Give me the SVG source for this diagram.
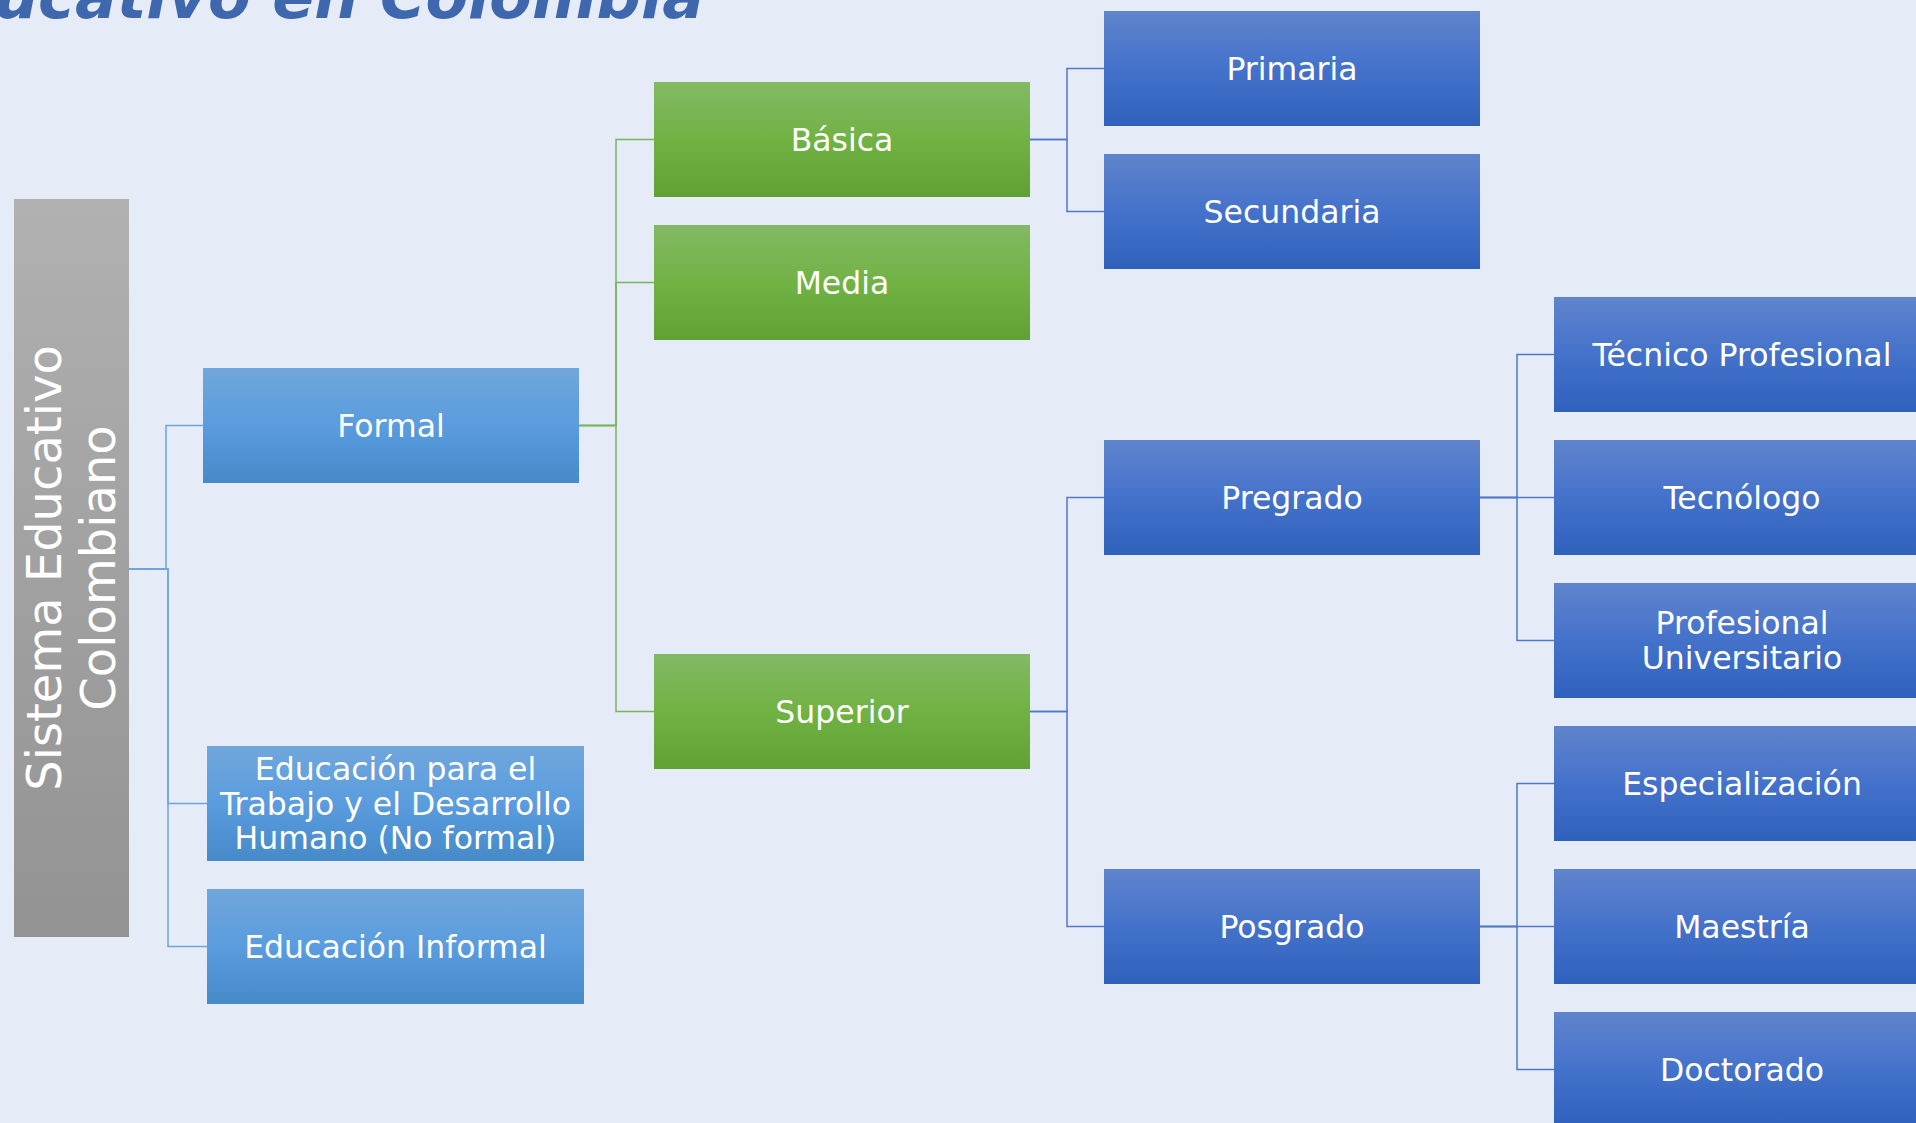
<svg xmlns="http://www.w3.org/2000/svg" width="1916" height="1123" viewBox="0 0 1916 1123">
<defs>
<linearGradient id="gGray" x1="0" y1="0" x2="0" y2="1"><stop offset="0" stop-color="#b1b1b1"/><stop offset="0.5" stop-color="#a1a1a1"/><stop offset="1" stop-color="#939393"/></linearGradient>
<linearGradient id="gLight" x1="0" y1="0" x2="0" y2="1"><stop offset="0" stop-color="#70a7dc"/><stop offset="0.5" stop-color="#5a9cde"/><stop offset="1" stop-color="#468ac9"/></linearGradient>
<linearGradient id="gGreen" x1="0" y1="0" x2="0" y2="1"><stop offset="0" stop-color="#83b964"/><stop offset="0.5" stop-color="#71b244"/><stop offset="1" stop-color="#60a133"/></linearGradient>
<linearGradient id="gBlue" x1="0" y1="0" x2="0" y2="1"><stop offset="0" stop-color="#6084cc"/><stop offset="0.5" stop-color="#4472cb"/><stop offset="1" stop-color="#2f61bb"/></linearGradient>
<style>
.t{font-family:"DejaVu Sans",Verdana,sans-serif;font-size:31.5px;fill:#ffffff;text-anchor:middle}
.root{font-family:"DejaVu Sans",Verdana,sans-serif;font-size:48px;fill:#ffffff;text-anchor:middle}
.title{font-family:"DejaVu Sans",Verdana,sans-serif;font-size:62px;font-weight:bold;font-style:italic;fill:#3f67ae;text-anchor:end}
.c{fill:none;stroke-width:1.5}
.cl{stroke:#6fa3dc}
.cg{stroke:#78b55a}
.cb{stroke:#4f78c8}
</style>
</defs>
<rect x="0" y="0" width="1916" height="1123" fill="#e5ecf8"/>
<text class="title" x="704" y="18">ucativo en Colombia</text>

<g id="connectors">
<path class="c cl" d="M129,569 H166 V425.5 H203"/>
<path class="c cl" d="M129,569 H168 V803.5 H207"/>
<path class="c cl" d="M129,569 H168 V946.5 H207"/>
<path class="c cg" d="M579,425.5 H616 V139.5 H654"/>
<path class="c cg" d="M579,425.5 H616 V282.5 H654"/>
<path class="c cg" d="M579,425.5 H616 V711.5 H654"/>
<path class="c cb" d="M1030,139.5 H1067 V68.5 H1104"/>
<path class="c cb" d="M1030,139.5 H1067 V211.5 H1104"/>
<path class="c cb" d="M1030,711.5 H1067 V497.5 H1104"/>
<path class="c cb" d="M1030,711.5 H1067 V926.5 H1104"/>
<path class="c cb" d="M1480,497.5 H1517 V354.5 H1554"/>
<path class="c cb" d="M1480,497.5 H1554"/>
<path class="c cb" d="M1480,497.5 H1517 V640.5 H1554"/>
<path class="c cb" d="M1480,926.5 H1517 V783.5 H1554"/>
<path class="c cb" d="M1480,926.5 H1554"/>
<path class="c cb" d="M1480,926.5 H1517 V1069.5 H1554"/>
</g>

<g id="root">
<rect x="14" y="199" width="115" height="738" fill="url(#gGray)"/>
<g transform="translate(0,568) rotate(-90)">
<text class="root" x="0" y="61">Sistema Educativo</text>
<text class="root" x="0" y="115">Colombiano</text>
</g>
</g>

<g id="formal"><rect x="203" y="368" width="376" height="115" fill="url(#gLight)"/><text class="t" x="391" y="437">Formal</text></g>
<g id="trabajo"><rect x="207" y="746" width="377" height="115" fill="url(#gLight)"/>
<text class="t" x="395.5" y="780">Educación para el</text>
<text class="t" x="395.5" y="815">Trabajo y el Desarrollo</text>
<text class="t" x="395.5" y="849">Humano (No formal)</text></g>
<g id="informal"><rect x="207" y="889" width="377" height="115" fill="url(#gLight)"/><text class="t" x="395.5" y="958">Educación Informal</text></g>

<g id="basica"><rect x="654" y="82" width="376" height="115" fill="url(#gGreen)"/><text class="t" x="842" y="151">Básica</text></g>
<g id="media"><rect x="654" y="225" width="376" height="115" fill="url(#gGreen)"/><text class="t" x="842" y="294">Media</text></g>
<g id="superior"><rect x="654" y="654" width="376" height="115" fill="url(#gGreen)"/><text class="t" x="842" y="723">Superior</text></g>

<g id="primaria"><rect x="1104" y="11" width="376" height="115" fill="url(#gBlue)"/><text class="t" x="1292" y="80">Primaria</text></g>
<g id="secundaria"><rect x="1104" y="154" width="376" height="115" fill="url(#gBlue)"/><text class="t" x="1292" y="223">Secundaria</text></g>
<g id="pregrado"><rect x="1104" y="440" width="376" height="115" fill="url(#gBlue)"/><text class="t" x="1292" y="509">Pregrado</text></g>
<g id="posgrado"><rect x="1104" y="869" width="376" height="115" fill="url(#gBlue)"/><text class="t" x="1292" y="938">Posgrado</text></g>

<g id="tecnico"><rect x="1554" y="297" width="376" height="115" fill="url(#gBlue)"/><text class="t" x="1742" y="366">Técnico Profesional</text></g>
<g id="tecnologo"><rect x="1554" y="440" width="376" height="115" fill="url(#gBlue)"/><text class="t" x="1742" y="509">Tecnólogo</text></g>
<g id="universitario"><rect x="1554" y="583" width="376" height="115" fill="url(#gBlue)"/>
<text class="t" x="1742" y="634">Profesional</text>
<text class="t" x="1742" y="669">Universitario</text></g>
<g id="especializacion"><rect x="1554" y="726" width="376" height="115" fill="url(#gBlue)"/><text class="t" x="1742" y="795">Especialización</text></g>
<g id="maestria"><rect x="1554" y="869" width="376" height="115" fill="url(#gBlue)"/><text class="t" x="1742" y="938">Maestría</text></g>
<g id="doctorado"><rect x="1554" y="1012" width="376" height="115" fill="url(#gBlue)"/><text class="t" x="1742" y="1081">Doctorado</text></g>
</svg>
